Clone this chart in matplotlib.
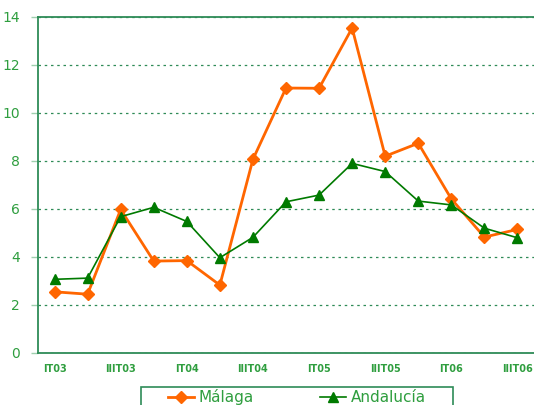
import matplotlib.pyplot as plt
from matplotlib.patches import Rectangle
import numpy as np

# Quarter labels (only every other one is shown on the axis)
quarters = ['IT03', 'IIT03', 'IIIT03', 'IVT03', 'IT04', 'IIT04', 'IIIT04', 'IVT04',
            'IT05', 'IIT05', 'IIIT05', 'IVT05', 'IT06', 'IIT06', 'IIIT06']
malaga = [2.55, 2.45, 5.98, 3.83, 3.85, 2.83, 8.07, 11.04, 11.03, 13.54, 8.2, 8.74,
          6.42, 4.83, 5.15]
andalucia = [3.07, 3.12, 5.68, 6.07, 5.48, 3.97, 4.82, 6.3, 6.58, 7.9, 7.56, 6.33,
             6.17, 5.2, 4.8]

orange = '#ff6600'
green = '#007a00'
axis_green = '#2e8b57'
text_green = '#2f9e3f'

fig = plt.figure(figsize=(5.34, 4.05), dpi=100)
ax = fig.add_axes([38 / 534, 1 - 353 / 405, 1 - 38 / 534, 336 / 405])

x = np.arange(len(quarters))
ax.plot(x, malaga, color=orange, lw=2, marker='D', ms=6.5, label='Málaga')
ax.plot(x, andalucia, color=green, lw=1.2, marker='^', ms=7.5, label='Andalucía')

ax.set_xlim(-0.5, len(quarters) - 0.5)
ax.set_ylim(0, 14)
ax.set_yticks(range(0, 15, 2))
ax.set_xticks(x[::2])
ax.set_xticklabels(quarters[::2])

ax.yaxis.grid(True, linestyle=(0, (2, 3)), color=axis_green, lw=0.9)
ax.set_axisbelow(True)

ax.spines['right'].set_visible(False)
for side in ['left', 'bottom', 'top']:
    ax.spines[side].set_color(axis_green)
    ax.spines[side].set_linewidth(1.3)

ax.tick_params(axis='y', colors='#9fcfae', labelcolor=text_green, labelsize=10,
               length=5, width=1, pad=8)
ax.tick_params(axis='x', length=0, labelcolor=text_green, labelsize=7, pad=8)
for lbl in ax.get_xticklabels():
    lbl.set_fontweight('bold')

# legend without its own frame; the box is drawn separately (cut by the figure edge)
leg = fig.legend(loc='center', bbox_to_anchor=(297 / 534, 1 - 397 / 405), ncol=2,
                 frameon=False, fontsize=11, handlelength=1.7, handletextpad=0.35,
                 columnspacing=4.3, borderpad=0, borderaxespad=0)
for t in leg.get_texts():
    t.set_color(text_green)

fig.patches.append(Rectangle((141 / 534, -0.02), 312 / 534, 0.02 + 18 / 405,
                             transform=fig.transFigure, fill=False,
                             edgecolor=axis_green, lw=1.2))

fig.savefig('out.png', dpi=100)
